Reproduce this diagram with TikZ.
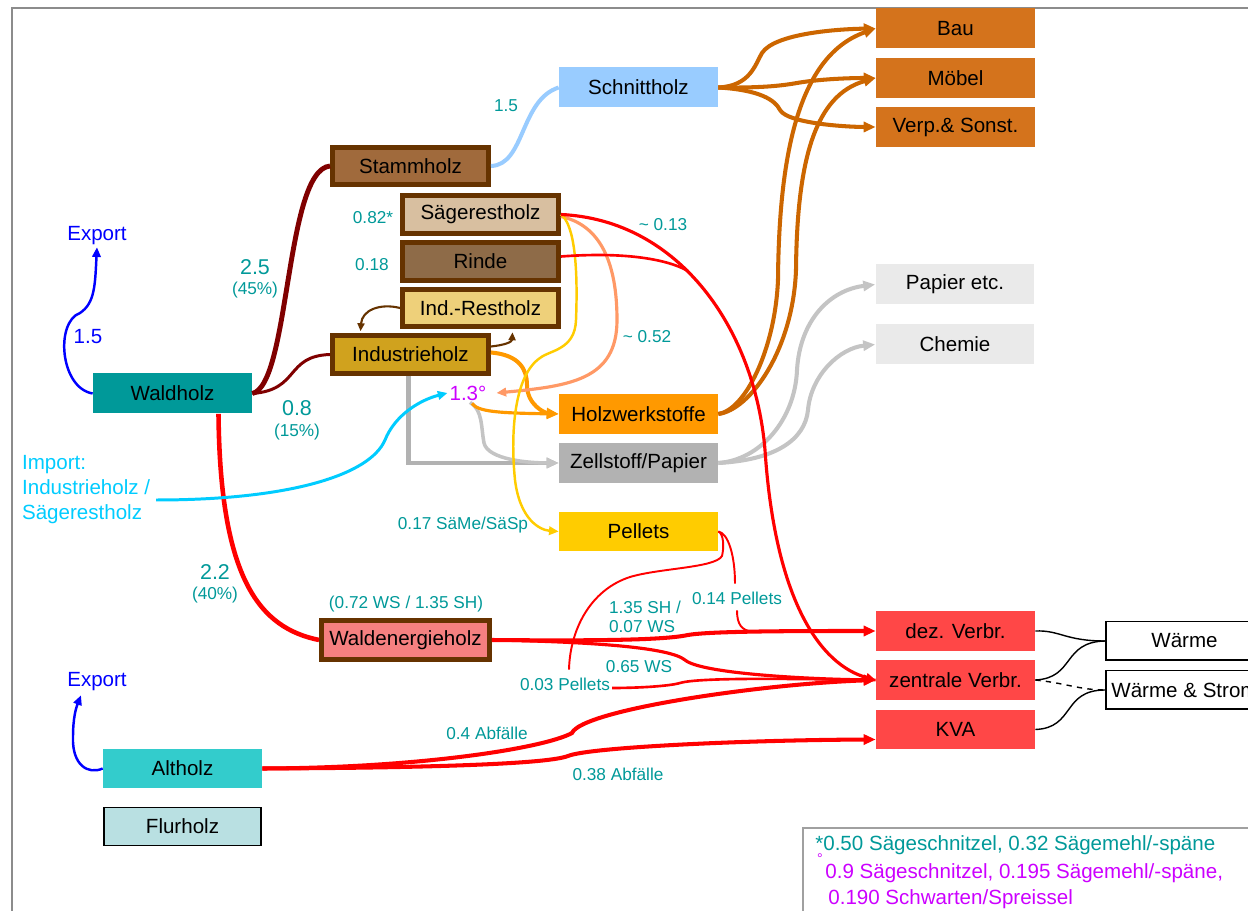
\documentclass[tikz,border=0pt]{standalone}
\usepackage{fontspec}
\setmainfont{Liberation Sans}
\usetikzlibrary{arrows.meta,calc}

% box fills
\definecolor{baufill}{HTML}{D4731C}
\definecolor{lblue}{HTML}{99CCFF}
\definecolor{stammfill}{HTML}{A06A3C}
\definecolor{saegefill}{HTML}{D8BFA0}
\definecolor{rindefill}{HTML}{8E6B48}
\definecolor{indrestfill}{HTML}{EED07A}
\definecolor{indhfill}{HTML}{D0A21E}
\definecolor{waldfill}{HTML}{009999}
\definecolor{orng}{HTML}{FF9900}
\definecolor{mgray}{HTML}{B2B2B2}
\definecolor{yell}{HTML}{FFCC00}
\definecolor{paleg}{HTML}{EAEAEA}
\definecolor{wefill}{HTML}{F58080}
\definecolor{verbred}{HTML}{FF4747}
\definecolor{altfill}{HTML}{33CCCC}
\definecolor{flurfill}{HTML}{B9E0E2}
\definecolor{bark}{HTML}{663300}
% flow colours
\definecolor{darkred}{HTML}{800000}
\definecolor{flowred}{HTML}{FF0000}
\definecolor{obrown}{HTML}{CC6600}
\definecolor{lgray}{HTML}{C4C4C4}
\definecolor{salmon}{HTML}{FF9966}
\definecolor{cyanimp}{HTML}{00CCFF}
\definecolor{expblue}{HTML}{0000FF}
% text colours
\definecolor{labteal}{HTML}{009999}
\definecolor{magen}{HTML}{CC00FF}
\definecolor{framegray}{HTML}{8C8C8C}
\definecolor{legendgray}{HTML}{A0A0A0}

\newcommand\boxfont{\fontsize{11.7}{14}\selectfont}
\newcommand\labfont{\fontsize{9.8}{10.8}\selectfont}
\newcommand\bigfont{\fontsize{12.2}{14}\selectfont}

\begin{document}
\begin{tikzpicture}[x=0.02cm, y=-0.02cm,
  flatbox/.style={inner sep=0pt, minimum width=3.18cm, minimum height=0.8cm, font=\boxfont},
  woodbox/.style={inner sep=0pt, draw=bark, line width=2.8pt, minimum width=3.12cm, minimum height=0.755cm, font=\boxfont},
  linebox/.style={flatbox, draw=black, line width=0.85pt, minimum width=3.15cm, minimum height=0.77cm},
  flowlab/.style={text=labteal, font=\labfont, inner sep=1pt},
  biglab/.style={text=labteal, font=\bigfont, inner sep=1pt},
  bluelab/.style={text=expblue, font=\boxfont, inner sep=1pt},
  arr/.style={-{Triangle[length=6.8pt,width=5.7pt]}},
  marr/.style={-{Triangle[length=5.5pt,width=4.8pt]}},
  sarr/.style={-{Triangle[length=4.5pt,width=4pt]}},
]
\useasboundingbox (0,0) rectangle (1248,911);
\clip (0,0) rectangle (1248,911);
\fill[white] (0,0) rectangle (1248,911);

% page frame and legend frame
\draw[framegray, line width=1.2pt] (12,911) -- (12,8) -- (1248,8);
\draw[legendgray, line width=1.2pt] (803,911) -- (803,828) -- (1248,828);

% ---------- boxes ----------
\node[flatbox, fill=baufill] (bau) at (955.5,28.5) {Bau};
\node[flatbox, fill=baufill] (moebel) at (955.5,78) {Möbel};
\node[flatbox, fill=baufill] (verp) at (955.5,127) {Verp.\& Sonst.};
\node[flatbox, fill=lblue] (schnitt) at (638.5,87.5) {Schnittholz};
\node[woodbox, fill=stammfill] (stamm) at (410.5,166) {Stammholz};
\node[woodbox, fill=saegefill] (saege) at (480.5,214.5) {Sägerestholz};
\node[woodbox, fill=rindefill] (rinde) at (480.5,261.5) {Rinde};
\node[woodbox, fill=indrestfill] (indrest) at (480.5,308) {Ind.-Restholz};
\node[woodbox, fill=indhfill] (indh) at (410.5,354.5) {Industrieholz};
\node[flatbox, fill=waldfill] (waldholz) at (172.5,393.5) {Waldholz};
\node[flatbox, fill=orng] (holzw) at (638.5,414) {Holzwerkstoffe};
\node[flatbox, fill=mgray] (zell) at (638.5,463) {Zellstoff/Papier};
\node[flatbox, fill=yell] (pellets) at (638.5,531.5) {Pellets};
\node[flatbox, fill=paleg] (papier) at (955,284.5) {Papier etc.};
\node[flatbox, fill=paleg] (chemie) at (955,344.5) {Chemie};
\node[woodbox, fill=wefill, minimum width=3.36cm, minimum height=0.78cm] (wenergie) at (405.5,640) {Waldenergieholz};
\node[flatbox, fill=verbred] (dez) at (955.5,631) {dez. Verbr.};
\node[flatbox, fill=verbred] (zentr) at (955.5,680) {zentrale Verbr.};
\node[flatbox, fill=verbred] (kva) at (955.5,729.5) {KVA};
\node[linebox, fill=white] (waerme) at (1184.5,641) {Wärme};
\node[linebox, fill=white] (wstrom) at (1184.5,690) {Wärme \& Strom};
\node[flatbox, fill=altfill] (altholz) at (182.5,768.5) {Altholz};
\node[linebox, fill=flurfill] (flurholz) at (182.5,826.5) {Flurholz};

% ---------- labels ----------
\node[bluelab] (exp1) at (97,236) {Export};
\node[bluelab] (exp2) at (97,682) {Export};
\node[bluelab] (l15b) at (88,337) {1.5};
\node[flowlab] (l15) at (506,106) {1.5};
\node[flowlab] (l082) at (373,218) {0.82*};
\node[flowlab] (l018) at (372,265) {0.18};
\node[flowlab] (l013) at (663,225) {\textasciitilde\ 0.13};
\node[flowlab] (l052) at (647,337) {\textasciitilde\ 0.52};
\node[text=magen, font=\boxfont, inner sep=1pt] (p13) at (468,393) {1.3°};
\node[biglab] (l25) at (255,267) {2.5};
\node[flowlab] (l45) at (255,290) {(45\%)};
\node[biglab] (l08) at (297,408) {0.8};
\node[flowlab] (l15p) at (297,432) {(15\%)};
\node[biglab] (l22) at (215,572) {2.2};
\node[flowlab] (l40) at (215,595) {(40\%)};
\node[text=cyanimp, font=\fontsize{11.7}{14.2}\selectfont, align=left, anchor=west, inner sep=1pt] (import) at (20,490) {Import:\\Industrieholz /\\Sägerestholz};
\node[flowlab] (l017) at (463,525) {0.17 SäMe/SäSp};
\node[flowlab] (lws) at (406,604) {(0.72 WS / 1.35 SH)};
\node[flowlab, align=left, anchor=west] (l135) at (607,617) {1.35 SH /\\0.07 WS};
\node[flowlab] (l14) at (737,598) {0.14 Pellets};
\node[flowlab] (l065) at (639,667) {0.65 WS};
\node[flowlab] (l03) at (565,684) {0.03 Pellets};
\node[flowlab] (l04) at (487,733) {0.4 Abfälle};
\node[flowlab] (l038) at (618,774) {0.38 Abfälle};

% legend
\node[anchor=west, text=labteal, font=\boxfont, inner sep=0pt] (leg1) at (815,845) {*0.50 Sägeschnitzel, 0.32 Sägemehl/-späne};
\node[text=magen, font=\fontsize{8}{8}\selectfont, inner sep=0pt] (legdeg) at (820,859) {°};
\node[anchor=west, text=magen, font=\boxfont, inner sep=0pt] (leg2) at (825,873) {0.9 Sägeschnitzel, 0.195 Sägemehl/-späne,};
\node[anchor=west, text=magen, font=\boxfont, inner sep=0pt] (leg3) at (828,899) {0.190 Schwarten/Spreissel};

% ---------- flows ----------
% forest wood split
\draw[darkred, line width=2.8pt] (waldholz.east) .. controls (290,385) and (285,170) .. (stamm.west);
\draw[darkred, line width=1.7pt] (waldholz.east) .. controls (300,390) and (285,356) .. (indh.west);
\draw[flowred, line width=2.6pt] ($(waldholz.south)+(46,0)$) .. controls (220,580) and (260,628) .. (wenergie.west);

% exports
\draw[expblue, line width=1.4pt, marr] (waldholz.west) .. controls (60,388) and (55,322) .. (80,313) .. controls (95,303) and (95,285) .. (exp1.south);
\draw[expblue, line width=1.4pt, marr] (altholz.west) .. controls (88,775) and (72,765) .. (73,737) .. controls (73,718) and (76,708) .. ($(exp2.south)+(-16,2)$);

% sawn timber
\draw[lblue, line width=2.3pt] (stamm.east) .. controls (525,165) and (520,100) .. (schnitt.west);
\draw[obrown, line width=2.3pt, arr] (schnitt.east) .. controls (750,86) and (755,65) .. (762,53) .. controls (775,33) and (840,29) .. (bau.west);
\draw[obrown, line width=2.3pt, arr] (schnitt.east) .. controls (760,88) and (780,86) .. (797,83) .. controls (820,79) and (850,78) .. (moebel.west);
\draw[obrown, line width=2.3pt, arr] (schnitt.east) .. controls (760,90) and (775,100) .. (780,110) .. controls (788,124) and (850,127) .. (verp.west);

% wood-based panels
\draw[obrown, line width=2.3pt, arr] (holzw.east) .. controls (745,410) and (775,350) .. (778,280) .. controls (779,150) and (800,55) .. (bau.west);
\draw[obrown, line width=2.3pt, arr] (holzw.east) .. controls (750,410) and (793,350) .. (796,270) .. controls (797,160) and (815,95) .. (moebel.west);

% pulp and paper
\draw[lgray, line width=2.3pt, arr] (zell.east) .. controls (760,460) and (795,420) .. (797,370) .. controls (800,320) and (830,290) .. (papier.west);
\draw[lgray, line width=2.3pt, arr] (zell.east) .. controls (775,460) and (805,440) .. (808,410) .. controls (811,375) and (840,348) .. (chemie.west);
\draw[mgray, line width=2.3pt, arr] ($(indh.south)+(-2,0)$) |- (zell.west);
\draw[lgray, line width=2pt, arr] ($(p13.south)+(2,0)$) .. controls (483,410) and (481,428) .. (484,443) .. controls (488,460) and (530,463) .. (zell.west);

% panels inputs
\draw[orng, line width=2.3pt, arr] ($(indh.east)+(0,-2)$) .. controls (520,355) and (527,370) .. (527,385) .. controls (527,405) and (545,413) .. (holzw.west);
\draw[orng, line width=1.8pt, arr] ($(p13.south)+(4,1)$) .. controls (478,412) and (500,413) .. (holzw.west);

% industrial residues
\draw[bark, line width=1.2pt, sarr] ($(indh.east)+(0,-8)$) .. controls (505,345) and (512,342) .. ($(indrest.south)+(32,3)$);
\draw[bark, line width=1.2pt, sarr] (indrest.west) .. controls (380,303) and (362,310) .. ($(indh.north)+(-50,-2)$);

% sawmill residues
\draw[salmon, line width=1.8pt, marr] ($(saege.east)+(0,2)$) .. controls (600,225) and (617,262) .. (617,320) .. controls (617,380) and (570,386) .. ($(p13.east)+(8,0)$);
\draw[yell, line width=1.4pt, marr] (saege.east) .. controls (575,225) and (578,270) .. (576,320) .. controls (575,350) and (550,350) .. (540,358) .. controls (515,375) and (510,430) .. (515,480) .. controls (520,520) and (540,530) .. (pellets.west);
\draw[flowred, line width=1.8pt, marr] (saege.east) .. controls (680,220) and (755,330) .. (765,450) .. controls (775,600) and (820,665) .. (zentr.west);
\coordinate (rmerge) at (688,271);
\draw[flowred, line width=1.5pt] ($(rinde.east)+(0,-5)$) .. controls (620,252) and (665,258) .. (rmerge);

% imports
\draw[cyanimp, line width=1.7pt, marr] ($(import.east)+(4,10)$) .. controls (290,500) and (370,475) .. (385,440) .. controls (395,415) and (420,400) .. (p13.west);

% energy wood
\draw[flowred, line width=2.3pt, arr] (wenergie.east) .. controls (600,641) and (665,640) .. (688,635) .. controls (710,631) and (800,631) .. (dez.west);
\draw[flowred, line width=1.8pt, arr] (wenergie.east) .. controls (600,642) and (670,648) .. (685,660) .. controls (700,673) and (800,679) .. (zentr.west);

% pellets
\draw[flowred, line width=1.1pt] (pellets.east) .. controls (724,534) and (724,548) .. (722,556) .. controls (715,568) and (660,568) .. (630,577) .. controls (590,590) and (570,630) .. ($(l03.north)+(4,-6)$);
\draw[flowred, line width=1.1pt] (pellets.east) .. controls (728,533) and (735,555) .. ($(l14.north)+(-2,-6)$);
\coordinate (dezjoin) at (752,632);
\draw[flowred, line width=1.1pt] ($(l14.south)+(0,4)$) .. controls (737,625) and (742,630) .. (dezjoin);
\draw[flowred, line width=1.5pt] ($(l03.east)+(0,4)$) .. controls (640,688) and (670,686) .. (680,683) .. controls (700,677) and (800,679) .. (zentr.west);

% waste wood
\draw[flowred, line width=2.3pt, arr] (altholz.east) .. controls (400,768) and (545,765) .. (568,756) .. controls (590,747) and (750,740) .. ($(kva.west)+(0,10)$);
\draw[flowred, line width=2.3pt, arr] (altholz.east) .. controls (420,768) and (545,748) .. (572,733) .. controls (582,710) and (760,684) .. (zentr.west);

% heat and power
\draw[black, line width=0.8pt] (dez.east) .. controls (1060,630) and (1065,641) .. (waerme.west);
\draw[black, line width=0.8pt] (zentr.east) .. controls (1075,678) and (1062,642) .. (waerme.west);
\draw[black, line width=0.8pt, dashed] (zentr.east) .. controls (1065,683) and (1080,690) .. (wstrom.west);
\draw[black, line width=0.8pt] (kva.east) .. controls (1075,728) and (1062,690) .. (wstrom.west);
\end{tikzpicture}
\end{document}
